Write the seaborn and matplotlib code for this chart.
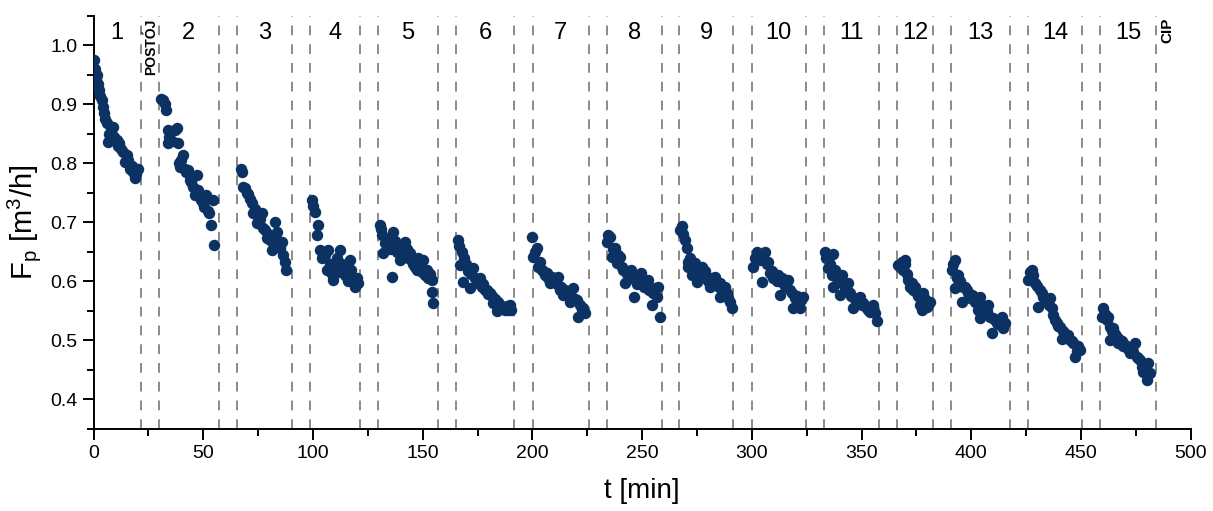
import matplotlib
matplotlib.use('Agg')
import matplotlib.pyplot as plt
from matplotlib.ticker import MultipleLocator
import seaborn as sns
import pandas as pd

# permeate flux per filtration cycle
t1 = [0.0, 0.6, 1.0, 1.5, 2.0, 2.6, 3.0, 3.6, 4.2, 4.7, 5.3, 5.9, 6.7, 7.2, 7.8, 8.3, 8.9, 9.5, 10.5, 11.0, 11.7, 12.5, 13.5, 14.3, 15.0, 15.8, 16.5, 17.3, 18.0, 18.8, 19.5, 20.3]
f1 = [0.975, 0.96, 0.945, 0.95, 0.935, 0.925, 0.915, 0.907, 0.895, 0.885, 0.875, 0.868, 0.836, 0.85, 0.86, 0.848, 0.862, 0.845, 0.84, 0.83, 0.835, 0.825, 0.82, 0.803, 0.815, 0.805, 0.79, 0.795, 0.785, 0.775, 0.782, 0.79]
t2 = [30.8, 31.5, 32.3, 33.2, 33.7, 34.0, 34.5, 35.5, 37.0, 37.8, 38.3, 38.8, 39.3, 40.0, 40.8, 41.5, 42.3, 43.1, 43.9, 44.6, 45.3, 46.2, 47.0, 47.6, 48.3, 49.0, 49.8, 50.5, 51.2, 52.0, 52.8, 53.5, 54.2, 55.0]
f2 = [0.910, 0.908, 0.900, 0.891, 0.857, 0.835, 0.845, 0.838, 0.857, 0.860, 0.835, 0.800, 0.794, 0.805, 0.815, 0.790, 0.785, 0.789, 0.772, 0.768, 0.760, 0.746, 0.780, 0.755, 0.745, 0.738, 0.732, 0.726, 0.746, 0.720, 0.716, 0.695, 0.738, 0.662]
t3 = [67.0, 67.4, 68.2, 69.0, 69.7, 70.3, 71.2, 72.0, 72.6, 73.4, 74.3, 75.0, 75.8, 76.6, 77.3, 78.0, 78.9, 79.6, 80.3, 81.1, 81.8, 82.6, 83.4, 84.2, 84.9, 85.7, 86.4, 87.2, 87.8]
f3 = [0.790, 0.786, 0.760, 0.758, 0.750, 0.748, 0.740, 0.733, 0.716, 0.722, 0.699, 0.710, 0.705, 0.716, 0.690, 0.687, 0.673, 0.680, 0.670, 0.653, 0.675, 0.701, 0.684, 0.668, 0.656, 0.667, 0.645, 0.633, 0.619]
t4 = [99.3, 99.8, 100.9, 101.9, 102.4, 103.1, 104.0, 105.4, 106.2, 106.9, 107.7, 108.5, 109.2, 110.0, 110.8, 111.5, 112.3, 113.0, 113.8, 114.5, 115.3, 116.0, 116.8, 117.5, 118.3, 119.1, 119.9, 120.6]
f4 = [0.738, 0.728, 0.718, 0.679, 0.696, 0.653, 0.640, 0.645, 0.619, 0.653, 0.630, 0.612, 0.602, 0.625, 0.640, 0.615, 0.653, 0.630, 0.625, 0.610, 0.608, 0.600, 0.636, 0.620, 0.602, 0.591, 0.605, 0.597]
t5 = [130.5, 131.0, 131.3, 132.0, 132.8, 133.5, 134.3, 135.0, 135.8, 136.6, 137.4, 138.1, 138.9, 139.6, 140.4, 141.2, 141.9, 142.7, 143.5, 144.2, 145.0, 145.7, 146.4, 147.2, 148.0, 148.7, 149.5, 150.2, 151.0, 151.8, 152.5, 153.3, 154.1, 154.1, 154.8]
f5 = [0.696, 0.688, 0.679, 0.648, 0.665, 0.672, 0.660, 0.655, 0.608, 0.684, 0.668, 0.650, 0.662, 0.636, 0.645, 0.660, 0.667, 0.655, 0.640, 0.648, 0.635, 0.630, 0.625, 0.620, 0.640, 0.628, 0.615, 0.636, 0.610, 0.619, 0.605, 0.612, 0.602, 0.582, 0.563]
t6 = [166.2, 166.6, 167.0, 167.7, 168.3, 169.0, 169.8, 170.5, 171.5, 172.2, 173.0, 173.8, 174.5, 175.3, 176.1, 176.8, 177.6, 178.4, 179.1, 179.9, 180.6, 181.4, 182.1, 182.9, 183.7, 184.4, 185.2, 186.0, 186.7, 187.5, 188.2, 189.0, 189.7, 190.3]
f6 = [0.670, 0.660, 0.628, 0.650, 0.599, 0.640, 0.630, 0.618, 0.588, 0.612, 0.622, 0.605, 0.598, 0.600, 0.605, 0.590, 0.595, 0.585, 0.585, 0.578, 0.580, 0.575, 0.563, 0.570, 0.549, 0.565, 0.560, 0.555, 0.557, 0.552, 0.558, 0.551, 0.560, 0.552]
t7 = [199.6, 200.4, 201.2, 201.9, 202.6, 203.4, 204.2, 205.0, 205.7, 206.5, 207.2, 208.0, 208.8, 209.6, 210.3, 211.1, 211.8, 212.5, 213.2, 214.0, 214.8, 215.5, 216.3, 217.1, 217.8, 218.6, 219.4, 220.1, 220.9, 221.6, 222.4, 223.2, 223.9]
f7 = [0.676, 0.642, 0.650, 0.656, 0.625, 0.632, 0.620, 0.618, 0.610, 0.614, 0.605, 0.597, 0.608, 0.600, 0.602, 0.595, 0.608, 0.585, 0.590, 0.577, 0.585, 0.580, 0.575, 0.565, 0.572, 0.588, 0.570, 0.568, 0.540, 0.560, 0.552, 0.554, 0.546]
t8 = [233.8, 234.5, 235.3, 236.1, 236.8, 237.6, 238.4, 239.2, 239.9, 240.6, 241.4, 242.4, 243.2, 244.0, 244.7, 245.5, 246.3, 247.0, 247.8, 248.6, 249.4, 250.2, 251.0, 251.7, 252.5, 253.3, 254.3, 255.1, 255.8, 256.6, 257.3, 258.1]
f8 = [0.667, 0.679, 0.675, 0.642, 0.655, 0.656, 0.631, 0.645, 0.642, 0.625, 0.619, 0.597, 0.612, 0.605, 0.619, 0.610, 0.574, 0.600, 0.595, 0.605, 0.614, 0.598, 0.590, 0.594, 0.602, 0.585, 0.560, 0.580, 0.588, 0.574, 0.591, 0.540]
t9 = [267.2, 268.0, 268.7, 269.5, 270.3, 271.0, 271.0, 271.8, 272.6, 273.3, 274.1, 274.8, 275.6, 276.4, 277.1, 277.9, 278.6, 279.4, 280.2, 281.1, 281.8, 282.5, 283.2, 284.0, 284.8, 285.5, 285.5, 286.2, 287.0, 287.7, 288.5, 289.3, 290.0, 290.8]
f9 = [0.687, 0.693, 0.680, 0.670, 0.656, 0.633, 0.625, 0.640, 0.611, 0.628, 0.631, 0.599, 0.620, 0.615, 0.625, 0.610, 0.618, 0.608, 0.600, 0.591, 0.605, 0.600, 0.608, 0.595, 0.590, 0.597, 0.574, 0.585, 0.580, 0.591, 0.580, 0.571, 0.565, 0.554]
t10 = [300.6, 301.4, 302.2, 303.0, 303.7, 304.5, 305.2, 306.0, 306.7, 307.5, 308.2, 309.0, 309.7, 310.5, 311.3, 312.0, 312.8, 313.6, 314.3, 315.1, 315.8, 316.6, 317.4, 318.1, 318.9, 319.6, 320.4, 321.1, 321.9, 322.6, 323.4]
f10 = [0.625, 0.640, 0.650, 0.645, 0.636, 0.599, 0.640, 0.650, 0.630, 0.633, 0.614, 0.618, 0.605, 0.608, 0.600, 0.610, 0.577, 0.605, 0.598, 0.592, 0.600, 0.602, 0.585, 0.580, 0.554, 0.571, 0.575, 0.560, 0.554, 0.568, 0.574]
t11 = [333.3, 334.0, 334.8, 335.6, 336.3, 337.1, 337.1, 337.8, 338.6, 339.4, 340.2, 340.9, 341.7, 342.4, 343.2, 343.9, 344.7, 345.4, 346.2, 347.0, 347.7, 348.5, 349.3, 350.0, 350.8, 351.5, 352.3, 353.1, 353.8, 354.6, 355.4, 356.1, 356.9]
f11 = [0.650, 0.640, 0.622, 0.630, 0.610, 0.647, 0.591, 0.620, 0.605, 0.600, 0.577, 0.611, 0.595, 0.585, 0.585, 0.597, 0.580, 0.575, 0.554, 0.570, 0.565, 0.572, 0.574, 0.560, 0.563, 0.558, 0.555, 0.551, 0.548, 0.555, 0.560, 0.546, 0.532]
t12 = [366.7, 367.4, 368.2, 369.0, 369.6, 370.0, 370.6, 371.3, 372.1, 372.8, 373.6, 374.4, 375.1, 375.9, 376.6, 377.4, 378.1, 378.9, 379.7, 380.4, 381.2]
f12 = [0.628, 0.625, 0.632, 0.619, 0.630, 0.636, 0.612, 0.602, 0.591, 0.598, 0.585, 0.590, 0.580, 0.575, 0.560, 0.551, 0.580, 0.570, 0.557, 0.560, 0.565]
t13 = [391.1, 391.8, 392.6, 392.6, 393.3, 394.1, 394.8, 395.6, 396.4, 397.1, 397.9, 398.6, 399.4, 400.2, 401.0, 401.7, 402.5, 403.2, 404.0, 404.0, 404.8, 405.5, 406.3, 407.0, 407.8, 408.6, 409.3, 410.1, 410.9, 411.6, 412.4, 413.1, 413.9, 414.6, 415.3]
f13 = [0.619, 0.630, 0.636, 0.588, 0.605, 0.611, 0.600, 0.565, 0.590, 0.591, 0.585, 0.580, 0.572, 0.577, 0.575, 0.565, 0.568, 0.551, 0.574, 0.537, 0.560, 0.555, 0.548, 0.550, 0.560, 0.540, 0.512, 0.538, 0.534, 0.530, 0.528, 0.535, 0.540, 0.520, 0.529]
t14 = [426.0, 426.7, 427.5, 428.3, 429.1, 429.8, 430.6, 431.4, 432.1, 432.9, 433.7, 434.4, 435.2, 436.0, 436.7, 437.4, 438.2, 439.0, 439.7, 440.4, 441.2, 442.0, 442.7, 443.5, 444.2, 445.0, 445.8, 446.5, 447.3, 448.0, 448.8, 449.6]
f14 = [0.602, 0.615, 0.619, 0.610, 0.597, 0.592, 0.557, 0.585, 0.580, 0.574, 0.570, 0.565, 0.560, 0.571, 0.555, 0.543, 0.535, 0.530, 0.525, 0.523, 0.503, 0.515, 0.510, 0.505, 0.509, 0.500, 0.498, 0.495, 0.472, 0.481, 0.490, 0.484]
t15 = [459.4, 460.2, 460.9, 461.7, 462.4, 463.2, 463.2, 464.0, 464.7, 465.5, 466.2, 467.0, 467.7, 468.5, 469.3, 470.0, 470.8, 471.5, 472.3, 473.1, 473.8, 474.6, 475.4, 476.1, 476.9, 477.6, 478.4, 479.1, 479.9, 480.7, 481.4]
f15 = [0.540, 0.554, 0.545, 0.535, 0.540, 0.523, 0.500, 0.515, 0.520, 0.510, 0.505, 0.495, 0.500, 0.498, 0.490, 0.492, 0.488, 0.485, 0.478, 0.485, 0.480, 0.495, 0.472, 0.470, 0.467, 0.455, 0.447, 0.450, 0.433, 0.461, 0.444]

# dashed separators between cycles [min]
separators = [21.4, 29.8, 57.0, 65.3, 90.4, 98.7, 121.4, 129.6, 156.8, 165.1,
              191.7, 200.1, 225.8, 234.1, 259.0, 266.8, 291.5, 299.9, 324.7, 332.9,
              358.1, 366.3, 382.7, 390.6, 417.6, 425.8, 450.5, 458.7, 484.3]
cycle_labels = [str(i) for i in range(1, 16)]
stop_label = ('POSTÓJ', 26.0)
cip_label = ('CIP', 489.5)

ts = [t1, t2, t3, t4, t5, t6, t7, t8, t9, t10, t11, t12, t13, t14, t15]
fs = [f1, f2, f3, f4, f5, f6, f7, f8, f9, f10, f11, f12, f13, f14, f15]
df = pd.concat([pd.DataFrame({'t': t, 'Fp': f, 'cykl': i + 1})
                for i, (t, f) in enumerate(zip(ts, fs))], ignore_index=True)

sns.set_style('ticks')
plt.rcParams['font.family'] = ['Liberation Sans', 'DejaVu Sans']
plt.rcParams['mathtext.default'] = 'regular'
plt.rcParams['lines.scale_dashes'] = False
for k in ['text.color', 'axes.labelcolor', 'xtick.color', 'ytick.color', 'axes.edgecolor']:
    plt.rcParams[k] = 'black'

fig = plt.figure(figsize=(12.13, 5.11), dpi=100)
ax = fig.add_axes([0.0772, 0.161, 0.9044, 0.8077])

for x in separators:
    ax.axvline(x, color='#8a8a8a', linestyle=(0, (7, 6.5)), linewidth=1.4, zorder=1)

sns.scatterplot(data=df, x='t', y='Fp', color='#0c3263', s=68, linewidth=0,
                ax=ax, zorder=3, legend=False)

# cycle numbers centred in each cycle
starts = [0.0] + separators[1::2]
ends = separators[0::2]
for lab, a, b in zip(cycle_labels, starts, ends):
    ax.text((a + b) / 2, 1.021, lab, ha='center', va='center', fontsize=17)
ax.text(stop_label[1], 1.045, stop_label[0], rotation=90, ha='center', va='top',
        fontsize=10, fontweight='bold')
ax.text(cip_label[1], 1.048, cip_label[0], rotation=90, ha='center', va='top',
        fontsize=11, fontweight='bold')

ax.set_xlim(0, 500)
ax.set_ylim(0.35, 1.05)
ax.xaxis.set_major_locator(MultipleLocator(50))
ax.xaxis.set_minor_locator(MultipleLocator(25))
ax.yaxis.set_major_locator(MultipleLocator(0.1))
ax.yaxis.set_minor_locator(MultipleLocator(0.05))
ax.set_yticks([0.4, 0.5, 0.6, 0.7, 0.8, 0.9, 1.0])
ax.tick_params(which='major', direction='out', length=8, width=1.4, labelsize=14)
ax.tick_params(which='minor', direction='out', length=5, width=1.4)
for s in ['left', 'bottom']:
    ax.spines[s].set_linewidth(1.4)
sns.despine(ax=ax)

ax.set_xlabel('t [min]', fontsize=20, labelpad=12)
ax.set_ylabel('F$_p$ [m$^3$/h]', fontsize=21, labelpad=5)

fig.savefig('out.png', dpi=100)
